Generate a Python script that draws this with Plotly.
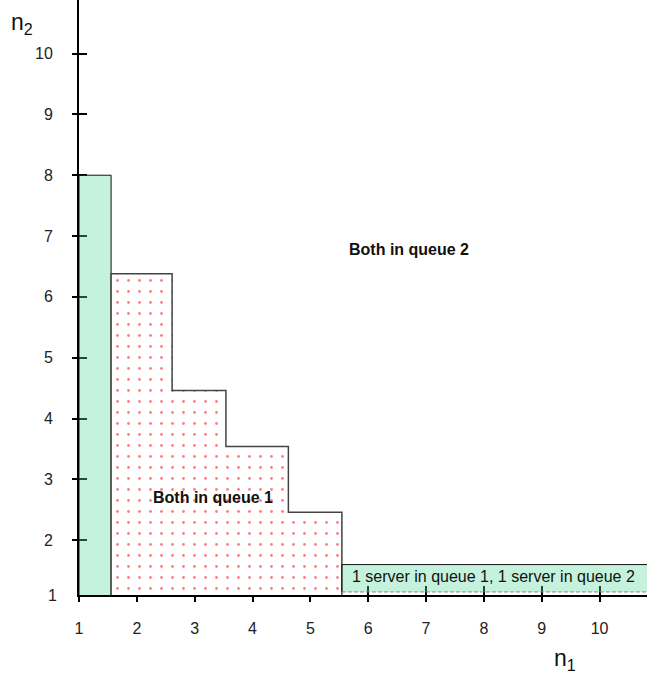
import plotly.graph_objects as go

# ---- data ----
x_ticks = [1, 2, 3, 4, 5, 6, 7, 8, 9, 10]
x_tick_labels = ["1", "2", "3", "4", "5", "6", "7", "8", "9", "10"]
y_ticks = [2, 3, 4, 5, 6, 7, 8, 9, 10]
y_tick_labels = ["2", "3", "4", "5", "6", "7", "8", "9", "10"]
y_floor_label = "1"

x_range = [1.0, 10.82]
y_range = [1.1, 10.88]

# green strip along the n2 axis
col_edges = [1.0, 1.555]
col_top = 8.0

# staircase region "Both in queue 1"
step_edges = [1.555, 2.61, 3.54, 4.62, 5.545]
step_heights = [6.38, 4.46, 3.54, 2.46]

# green band along the n1 axis
band_edges = [5.545, 10.95]
band_levels = [1.15, 1.6]

labels = ["Both in queue 2", "Both in queue 1", "1 server in queue 1, 1 server in queue 2"]
label_x = [6.70, 3.31, 8.16]
label_y = [6.78, 2.70, 1.41]

FONT = "Liberation Sans, Arial, sans-serif"
GREEN = "rgba(86,218,155,0.35)"

base = y_range[0]

# staircase polygon
sx = [step_edges[0]]
sy = [base]
for i, h in enumerate(step_heights):
    sx += [step_edges[i], step_edges[i + 1]]
    sy += [h, h]
sx.append(step_edges[-1])
sy.append(base)

fig = go.Figure()

fig.add_trace(go.Scatter(
    x=[col_edges[0], col_edges[0], col_edges[1], col_edges[1]],
    y=[base, col_top, col_top, base],
    mode="lines", fill="toself", fillcolor=GREEN,
    line=dict(color="#111", width=1), hoverinfo="skip"))

fig.add_trace(go.Scatter(
    x=sx, y=sy, mode="lines", fill="toself",
    fillpattern=dict(shape=".", fgcolor="#ff0000", bgcolor="white", size=11, solidity=0.05),
    line=dict(color="#444", width=1.5), hoverinfo="skip"))

fig.add_trace(go.Scatter(
    x=[band_edges[0], band_edges[0], band_edges[1], band_edges[1]],
    y=[band_levels[0], band_levels[1], band_levels[1], band_levels[0]],
    mode="lines", fill="toself", fillcolor=GREEN,
    line=dict(color="#111", width=1), hoverinfo="skip"))

fig.add_trace(go.Scatter(
    x=band_edges, y=[band_levels[0], band_levels[0]], mode="lines",
    line=dict(color="#888", width=1, dash="4px,2px"), hoverinfo="skip"))

# dummy traces for the overlay axes (inside ticks, floor label)
fig.add_trace(go.Scatter(x=[None], y=[None], xaxis="x2", yaxis="y2",
                         mode="markers", hoverinfo="skip"))
fig.add_trace(go.Scatter(x=[None], y=[None], xaxis="x2", yaxis="y3",
                         mode="markers", hoverinfo="skip"))

for t, xx, yy in zip(labels, label_x, label_y):
    bold = not t.startswith("1 server")
    fig.add_annotation(x=xx, y=yy, xref="x", yref="y", text=t, showarrow=False,
                       xanchor="center", yanchor="middle",
                       font=dict(family=FONT, size=16, color="#111",
                                 weight="bold" if bold else "normal"))

fig.add_annotation(x=-0.100, y=0.961, xref="paper", yref="paper", text="n<sub>2</sub>",
                   xanchor="center", yanchor="middle",
                   showarrow=False, font=dict(family=FONT, size=23, color="#111"))
fig.add_annotation(x=0.856, y=-0.109, xref="paper", yref="paper", text="n<sub>1</sub>",
                   xanchor="center", yanchor="middle",
                   showarrow=False, font=dict(family=FONT, size=23, color="#111"))

axis_common = dict(showgrid=False, zeroline=False)
TICKFONT = dict(family=FONT, size=16, color="#222")

fig.update_layout(
    width=647, height=674,
    margin=dict(l=79, r=0, t=0, b=79),
    paper_bgcolor="white", plot_bgcolor="white",
    showlegend=False,
    font=dict(family=FONT, size=16, color="#222"),
    xaxis=dict(range=x_range, showline=True, linewidth=2, linecolor="black",
               ticks="outside", ticklen=5, tickwidth=2, tickcolor="black",
               tickvals=x_ticks, ticktext=x_tick_labels, ticklabelstandoff=13,
               tickfont=TICKFONT, **axis_common),
    yaxis=dict(range=y_range, showline=True, linewidth=2, linecolor="black",
               ticks="outside", ticklen=5, tickwidth=2, tickcolor="black",
               tickvals=y_ticks, ticktext=y_tick_labels, ticklabelstandoff=16,
               tickfont=TICKFONT, **axis_common),
    xaxis2=dict(range=x_range, overlaying="x", anchor="y2", ticks="inside", ticklen=9,
                tickwidth=2, tickcolor="black", tickvals=x_ticks[1:], showticklabels=False,
                showline=False, layer="below traces", **axis_common),
    yaxis2=dict(range=y_range, overlaying="y", anchor="x2", ticks="inside", ticklen=8,
                tickwidth=2, tickcolor="black", tickvals=y_ticks, showticklabels=False,
                showline=False, layer="below traces", **axis_common),
    yaxis3=dict(range=y_range, overlaying="y", anchor="x2", ticks="",
                tickvals=[base], ticktext=[y_floor_label], ticklabelstandoff=21,
                tickfont=TICKFONT, showline=False, **axis_common),
)

fig.write_html("out.html", post_script="document.body.style.margin='0';",
               config={"displayModeBar": False})
